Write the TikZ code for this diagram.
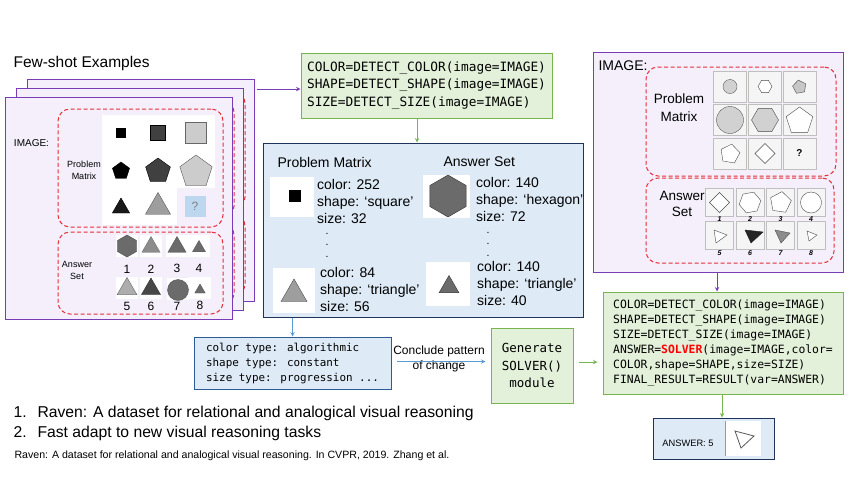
\documentclass[tikz,border=0pt]{standalone}
\usepackage{fontspec}
\setmainfont{Liberation Sans}
\newfontfamily\codefont{DejaVu Sans Mono}
\usepackage{tikz}
\usetikzlibrary{arrows,shapes,positioning}
\usepackage{xcolor}
\definecolor{rvpurple}{RGB}{120,60,180}
\definecolor{rvlav}{RGB}{244,239,250}
\definecolor{rvred}{RGB}{228,48,60}
\definecolor{rvgreen}{RGB}{120,180,80}
\definecolor{rvlightgreen}{RGB}{227,240,218}
\definecolor{rvnavy}{RGB}{31,50,90}
\definecolor{rvblue}{RGB}{46,90,150}
\definecolor{rvlightblue}{RGB}{222,235,247}
\definecolor{rvarrowblue}{RGB}{91,155,213}
\definecolor{rvqblue}{RGB}{189,215,238}
\newcommand{\rvfont}[2]{\fontsize{#1}{#2}\selectfont}
\tikzstyle{card} = [rectangle, draw=rvpurple, fill=rvlav, line width=1pt, minimum width=227, minimum height=222, inner sep=0]
\tikzstyle{dashbox} = [rectangle, draw=rvred, dash pattern=on 4pt off 2.5pt, line width=1pt, rounded corners=12pt, inner sep=0]
\tikzstyle{codebox} = [rectangle, draw=rvgreen, fill=rvlightgreen, line width=1pt, align=left]
\tikzstyle{infobox} = [rectangle, draw=rvnavy, fill=rvlightblue, line width=1pt, inner sep=0]
\tikzstyle{fig} = [inner sep=0, outer sep=0]
\tikzstyle{cell} = [rectangle, draw=black!25, fill=black!4, inner sep=0]
\tikzstyle{poly} = [fig, regular polygon, draw=black!70]
\tikzstyle{attrtext} = [anchor=west, align=left, inner sep=0]
\tikzstyle{arrow} = [line width=1pt,->,>=stealth]

\begin{document}
\begin{tikzpicture}[x=1pt, y=-1pt]
\useasboundingbox (0,0) rectangle (853,480);

% few-shot example cards
\node[anchor=west, font=\rvfont{15.5}{18}] (fewshot) at (10,63) {Few-shot Examples};
\foreach \i/\dx/\dy in {3/22/-18, 2/11/-9} {
  \begin{scope}[shift={(\dx,\dy)}]
    \node[card] (card\i) at (118.5,208) {};
    \node[dashbox, minimum width=165, minimum height=118] (pm\i) at (140.5,168) {};
    \node[dashbox, minimum width=165, minimum height=82] (as\i) at (140.5,273) {};
  \end{scope}
}
\node[card] (card1) at (118.5,208) {};
\node[font=\rvfont{10}{12}] (img1lbl) at (31.5,143) {IMAGE:};
\node[dashbox, minimum width=165, minimum height=118] (pm1) at (140.5,168) {};
\fill[white] (102,115) rectangle (215,188);
\fill[white] (102,188) rectangle (177,225);
\node[align=center, font=\rvfont{9}{12}] (pm1lbl) at (84,170) {Problem\\Matrix};
% problem matrix
\node[fig, rectangle, minimum size=10, fill=black] (q11) at (121,133) {};
\node[fig, rectangle, minimum size=15, fill=black!75, draw=black] (q12) at (158,133) {};
\node[fig, rectangle, minimum size=21, fill=black!20, draw=black!60] (q13) at (196,133) {};
\node[poly, regular polygon sides=5, minimum size=18, fill=black, draw=black] (q21) at (121,171) {};
\node[poly, regular polygon sides=5, minimum size=26, fill=black!75, draw=black] (q22) at (158,171) {};
\node[poly, regular polygon sides=5, minimum size=34, fill=black!20, draw=black!65] (q23) at (196,172) {};
\node[poly, regular polygon sides=3, minimum size=20, fill=black!90, draw=black] (q31) at (121,208) {};
\node[poly, regular polygon sides=3, minimum size=29, fill=black!38, draw=black!65] (q32) at (158,207) {};
\node[fig, rectangle, minimum size=21, fill=rvqblue, text=black!50, font=\rvfont{12}{12}] (q33) at (195,206) {?};
% answer set
\node[dashbox, minimum width=165, minimum height=82] (as1) at (140.5,273) {};
\node[align=center, font=\rvfont{9}{12}] (as1lbl) at (77,270) {Answer\\Set};
\foreach \n/\x/\y in {1/127/246, 2/151/246, 3/177/246, 4/199/246, 5/127/288, 6/151/288, 7/178/289, 8/200/288}
  \fill[white] (\x-11,\y-11) rectangle (\x+11,\y+11);
\node[poly, regular polygon sides=6, shape border rotate=30, minimum size=22, fill=black!58, draw=black!70] (a1) at (127,246) {};
\node[poly, regular polygon sides=3, minimum size=21, fill=black!45, draw=black!55] (a2) at (151,247) {};
\node[poly, regular polygon sides=3, minimum size=21, fill=black!58, draw=black!65] (a3) at (177,247) {};
\node[poly, regular polygon sides=3, minimum size=15, fill=black!58, draw=black!65] (a4) at (199,248) {};
\node[poly, regular polygon sides=3, minimum size=23, fill=black!32, draw=black!60] (a5) at (127,289) {};
\node[poly, regular polygon sides=3, minimum size=22, fill=black!72, draw=black!80] (a6) at (151,289) {};
\node[fig, circle, minimum size=21, fill=black!58, draw=black!65] (a7) at (178,290) {};
\node[poly, regular polygon sides=3, minimum size=12, fill=black!58, draw=black!65] (a8) at (200,290) {};
\foreach \n/\x/\y in {1/127/269, 2/151/269, 3/177/268, 4/199/268, 5/127/306, 6/151/306, 7/177/306, 8/200/305}
  \node[font=\rvfont{12}{12}] (n\n) at (\x,\y) {\n};

% detection program
\node[codebox, minimum width=251, minimum height=65, font=\codefont\rvfont{12.8}{17.5}] (detect) at (426.5,85.5) {COLOR=DETECT\_COLOR(image=IMAGE)\\SHAPE=DETECT\_SHAPE(image=IMAGE)\\SIZE=DETECT\_SIZE(image=IMAGE)};
\coordinate (fsout) at (257,89);
\draw[arrow, rvpurple] (fsout) -- (fsout -| detect.west);

% detected attributes
\node[infobox, minimum width=320, minimum height=174] (attrs) at (423,230) {};
\draw[arrow, rvgreen] (detect.south -| 417,0) -- (attrs.north -| 417,0);
\node[anchor=west, font=\rvfont{14}{17}] (pmhead) at (274,162) {Problem Matrix};
\node[anchor=west, font=\rvfont{14}{17}] (ashead) at (440,162) {Answer Set};
\node[fig, fill=white, minimum width=44, minimum height=40] (im1) at (292,197) {};
\node[fig, fill=black, minimum size=12] (im1s) at (295,196) {};
\node[fig, fill=white, minimum width=42, minimum height=45] (im2) at (294,290) {};
\node[poly, regular polygon sides=3, minimum size=30, fill=black!38, draw=black!70] (im2s) at (294,294) {};
\node[fig, fill=white, minimum width=47, minimum height=43] (im3) at (446.5,196.5) {};
\node[poly, regular polygon sides=6, shape border rotate=30, minimum size=42, fill=black!58, draw=black!80] (im3s) at (448,196) {};
\node[fig, fill=white, minimum width=44, minimum height=44] (im4) at (448,284) {};
\node[poly, regular polygon sides=3, minimum size=23, fill=black!58, draw=black!80] (im4s) at (449,287) {};
\begin{scope}[font=\rvfont{14}{17}]
  \node[attrtext] (t1) at (317,201) {color: 252\\shape: `square'\\size: 32};
  \node[attrtext] (t2) at (320,289) {color: 84\\shape: `triangle'\\size: 56};
  \node[attrtext] (t3) at (476,199) {color: 140\\shape: `hexagon'\\size: 72};
  \node[attrtext] (t4) at (477,283) {color: 140\\shape: `triangle'\\size: 40};
  \node[fig, align=center, font=\rvfont{10.5}{11.5}] (dots1) at (327,245) {.\\.\\.};
  \node[fig, align=center, font=\rvfont{10.5}{11.5}] (dots2) at (488,244) {.\\.\\.};
\end{scope}

% pattern types
\node[infobox, draw=rvblue, inner sep=4pt, minimum width=197, minimum height=52, align=left, font=\codefont\rvfont{10.9}{15}] (types) at (292.5,363) {color type: algorithmic\\shape type: constant\\size type: progression ...};
\draw[arrow, rvarrowblue] (types.north |- attrs.south) -- (types.north);
\node[codebox, align=center, minimum width=82, minimum height=75, font=\codefont\rvfont{12.5}{17.5}] (gen) at (532,365.5) {Generate\\SOLVER()\\module};
\node[align=center, font=\rvfont{12}{15}] (concl) at (439,359) {Conclude pattern\\of change};
\draw[arrow, rvarrowblue, shorten <=5pt, shorten >=5pt] (types.east |- 0,361.5) -- (gen.west |- 0,361.5);

% query image
\node[card, minimum width=250, minimum height=220] (qcard) at (718,162) {};
\node[anchor=west, font=\rvfont{14}{17}] (qimglbl) at (595,66) {IMAGE:};
\node[dashbox, minimum width=190, minimum height=109] (qpm) at (741,121.5) {};
\node[align=center, font=\rvfont{13.5}{18}] (qpmlbl) at (679,108) {Problem\\Matrix};
\foreach \x in {730,765,799.5}
  \foreach \y in {86.5,120,153.5}
    \node[cell, minimum width=33, minimum height=31] at (\x,\y) {};
\node[fig, circle, minimum size=14, fill=black!18, draw=black!65] (g11) at (730,86.5) {};
\node[poly, regular polygon sides=6, minimum size=14, fill=white] (g12) at (765,86.5) {};
\node[poly, regular polygon sides=5, shape border rotate=10, minimum size=14, fill=black!22] (g13) at (799.5,87) {};
\node[fig, circle, minimum size=27, fill=black!18, draw=black!65] (g21) at (730,120) {};
\node[poly, regular polygon sides=6, minimum size=27, fill=black!18] (g22) at (765,120) {};
\node[poly, regular polygon sides=5, minimum size=28, fill=white] (g23) at (799.5,121) {};
\node[poly, regular polygon sides=5, shape border rotate=-10, minimum size=20, fill=white] (g31) at (730,154) {};
\node[poly, regular polygon sides=4, shape border rotate=45, minimum size=20, fill=white] (g32) at (765,153.5) {};
\node[font=\bfseries\rvfont{10}{10}] (g33) at (799.5,153.5) {?};
\node[dashbox, minimum width=188, minimum height=85] (qas) at (740,220.5) {};
\node[align=center, font=\rvfont{13.5}{16}] (qaslbl) at (682,204) {Answer\\Set};
\foreach \n/\x/\y/\ny in {1/719.5/202.5/219, 2/750/202.5/219, 3/780.5/202.5/219, 4/811/202.5/219, 5/719.5/235.5/253, 6/750/235.5/253, 7/780.5/235.5/253, 8/811/235.5/253} {
  \node[cell, minimum width=28, minimum height=28] (c\n) at (\x,\y) {};
  \node[font=\bfseries\itshape\rvfont{7}{7}] (cn\n) at (\x,\ny) {\n};
}
\node[poly, regular polygon sides=4, shape border rotate=45, minimum size=20, fill=white] (b1) at (c1) {};
\node[poly, regular polygon sides=6, shape border rotate=10, minimum size=22, fill=white] (b2) at (c2) {};
\node[poly, regular polygon sides=5, shape border rotate=-8, minimum size=22, fill=white] (b3) at (c3) {};
\node[fig, circle, minimum size=21, draw=black!70, fill=white] (b4) at (c4) {};
\draw[black!70, fill=white] (714,230) -- (727,235) -- (716,243) -- cycle;
\draw[black!90, fill=black!85] (745,230) -- (763,232) -- (751,243) -- cycle;
\draw[black!70, fill=black!45] (775,230) -- (790,233) -- (781,243) -- cycle;
\draw[black!70, fill=white] (807,231) -- (817,235) -- (809,241) -- cycle;

% solver program and answer
\node[codebox, minimum width=240, minimum height=102, font=\codefont\rvfont{11.4}{15}] (prog) at (723,343) {COLOR=DETECT\_COLOR(image=IMAGE)\\SHAPE=DETECT\_SHAPE(image=IMAGE)\\SIZE=DETECT\_SIZE(image=IMAGE)\\ANSWER=\textcolor{red}{\textbf{SOLVER}}(image=IMAGE,color=\\COLOR,shape=SHAPE,size=SIZE)\\FINAL\_RESULT=RESULT(var=ANSWER)};
\draw[arrow, rvpurple] (qcard.south -| 717,0) -- (prog.north -| 717,0);
\draw[arrow, rvgreen, shorten <=5pt, shorten >=5pt] (gen.east |- 0,362) -- (prog.west |- 0,362);
\node[infobox, minimum width=121, minimum height=41] (ansbox) at (713.5,438.5) {};
\draw[arrow, rvgreen] (prog.south -| 722,0) -- (ansbox.north -| 722,0);
\node[font=\rvfont{9.3}{11}] (anstxt) at (688,443) {ANSWER: 5};
\node[fig, fill=white, minimum width=36, minimum height=35] (ansimg) at (743,438.5) {};
\draw[black!40] (ansimg.north west) -- (ansimg.south west);
\draw[black!65, line width=0.8pt] (735,431) -- (754,436) -- (741,448) -- cycle;

% notes
\node[anchor=west, font=\rvfont{15.7}{20}, align=left] (notes) at (10,423) {\makebox[24pt][l]{1.}Raven: A dataset for relational and analogical visual reasoning\\\makebox[24pt][l]{2.}Fast adapt to new visual reasoning tasks};
\node[anchor=west, font=\rvfont{10.6}{12}] (cite) at (11,456) {Raven: A dataset for relational and analogical visual reasoning. In CVPR, 2019. Zhang et al.};
\end{tikzpicture}
\end{document}
